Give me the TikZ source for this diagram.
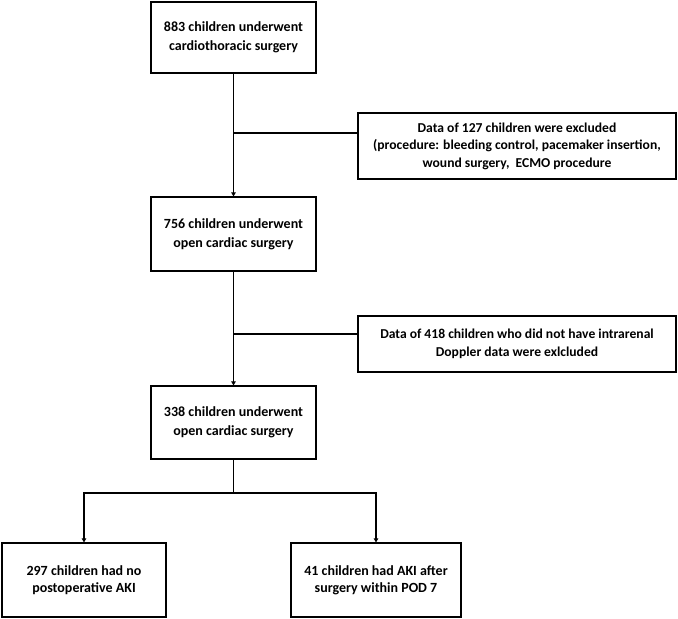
\documentclass[tikz,border=0pt]{standalone}
\usepackage{fontspec}
\setmainfont{Carlito}
\usepackage{tikz}
\usetikzlibrary{arrows.meta,positioning,calc}

\begin{document}
\begin{tikzpicture}[
  x=1pt, y=-1pt,
  stepbox/.style={
    rectangle, draw=black, line width=1.2pt, fill=white,
    inner sep=0pt, align=center
  },
  mainbox/.style={stepbox, minimum width=165pt, font=\fontsize{14}{19}\selectfont\bfseries},
  exbox/.style={stepbox, minimum width=318pt, font=\fontsize{13.6}{17.5}\selectfont\bfseries},
  leafbox/.style={stepbox, minimum height=74pt, font=\fontsize{14}{17}\selectfont\bfseries},
  arr/.style={-{Triangle[length=4pt,width=4.5pt]}, line width=1.2pt},
  link/.style={line width=1.2pt}
]
\useasboundingbox (0,0) rectangle (678,619);

% --- main flow boxes
\node[mainbox, minimum height=71pt] (total) at (233.5, 37.5)
  {883 children underwent\\cardiothoracic surgery};
\node[mainbox, minimum height=74pt] (open) at (233.5, 234)
  {756 children underwent\\open cardiac surgery};
\node[mainbox, minimum height=73pt] (doppler) at (233.5, 422.5)
  {338 children underwent\\open cardiac surgery};

% --- exclusion boxes
\node[exbox, minimum height=66pt] (excl1) at (517, 146)
  {Data of 127 children were excluded\\(procedure: bleeding control, pacemaker insertion,\\wound surgery,\ \ ECMO procedure};
\node[exbox, minimum height=56pt] (excl2) at (517, 344)
  {Data of 418 children who did not have intrarenal\\Doppler data were exlcluded};

% --- outcome boxes
\node[leafbox, minimum width=164pt] (noaki) at (84, 580)
  {297 children had no\\postoperative AKI};
\node[leafbox, minimum width=170pt] (aki) at (376, 580)
  {41 children had AKI after\\surgery within POD 7};

% --- junctions
\coordinate (j1) at (233.5, 133);
\coordinate (j2) at (233.5, 334);
\coordinate (split) at (233.5, 493);

% --- Arrows: main trunk
\draw[arr] (total) -- (open);
\draw[arr] (open) -- (doppler);
\draw[link] (j1) -- (j1 -| excl1.west);
\draw[link] (j2) -- (j2 -| excl2.west);

% --- Arrows: split into outcomes
\draw[link] (doppler) -- (split);
\draw[arr] (split) -| (noaki);
\draw[arr] (split) -| (aki);

\end{tikzpicture}
\end{document}
